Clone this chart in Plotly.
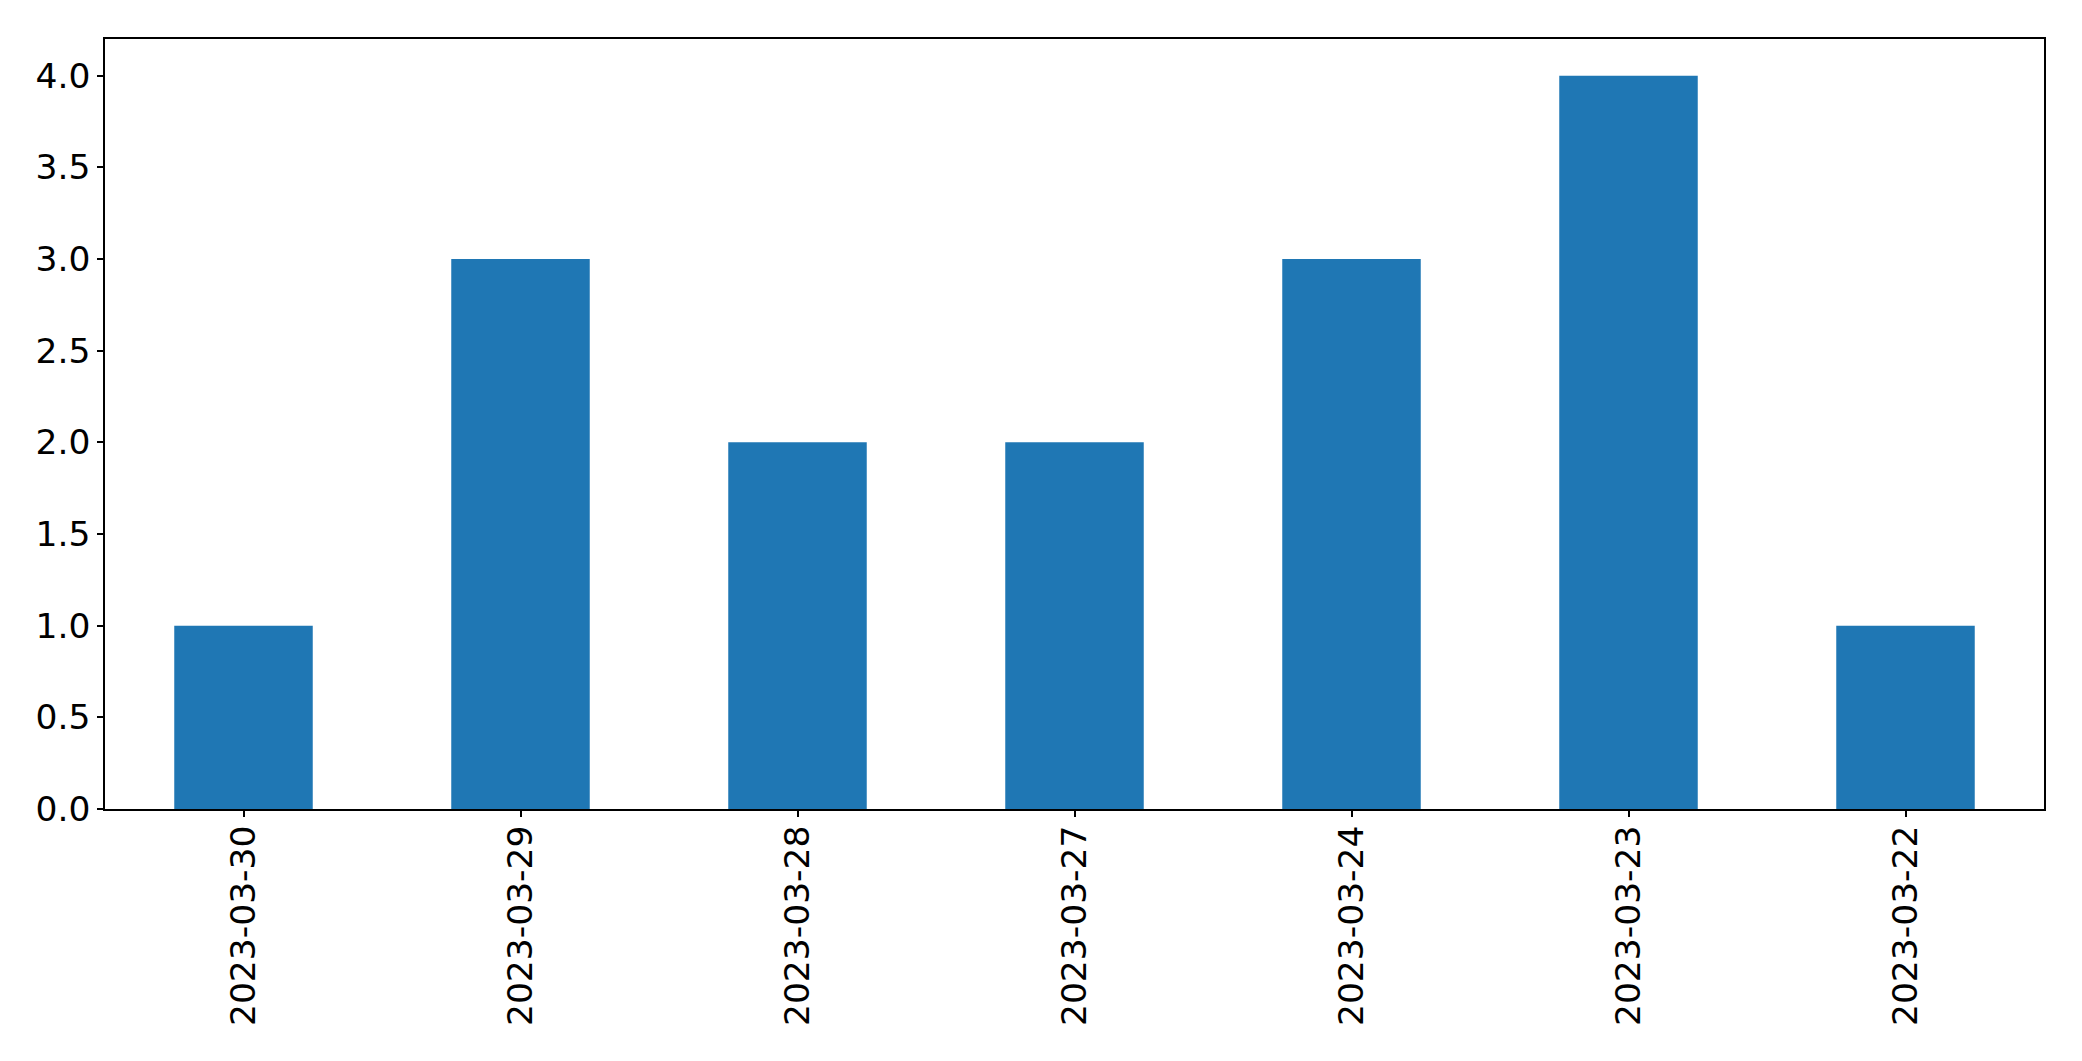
import plotly.graph_objects as go

dates = ["2023-03-30", "2023-03-29", "2023-03-28", "2023-03-27", "2023-03-24", "2023-03-23", "2023-03-22"]
counts = [1, 3, 2, 2, 3, 4, 1]
y_ticks = [0.0, 0.5, 1.0, 1.5, 2.0, 2.5, 3.0, 3.5, 4.0]

fig = go.Figure(go.Bar(x=dates, y=counts, width=0.5, marker=dict(color="#1f77b4", line=dict(width=0))))

fig.update_layout(
    width=2066, height=1045,
    margin=dict(l=97, r=30, t=31, b=244),
    plot_bgcolor="white", paper_bgcolor="white",
    font=dict(family="DejaVu Sans", size=34.5, color="black"),
    showlegend=False,
)
fig.update_xaxes(
    type="category", range=[-0.5, 6.5], tickangle=-90,
    showline=True, linecolor="black", linewidth=1.5, mirror=True,
    ticks="outside", ticklen=6, tickwidth=1.5, tickcolor="black",
    ticklabelstandoff=-5,
    showgrid=False, zeroline=False,
)
fig.update_yaxes(
    range=[0, 4.2], tickvals=y_ticks, ticktext=[f"{v:.1f}" for v in y_ticks],
    showline=True, linecolor="black", linewidth=1.5, mirror=True,
    ticks="outside", ticklen=6, tickwidth=1.5, tickcolor="black",
    showgrid=False, zeroline=False,
)
fig.write_html("out.html")
